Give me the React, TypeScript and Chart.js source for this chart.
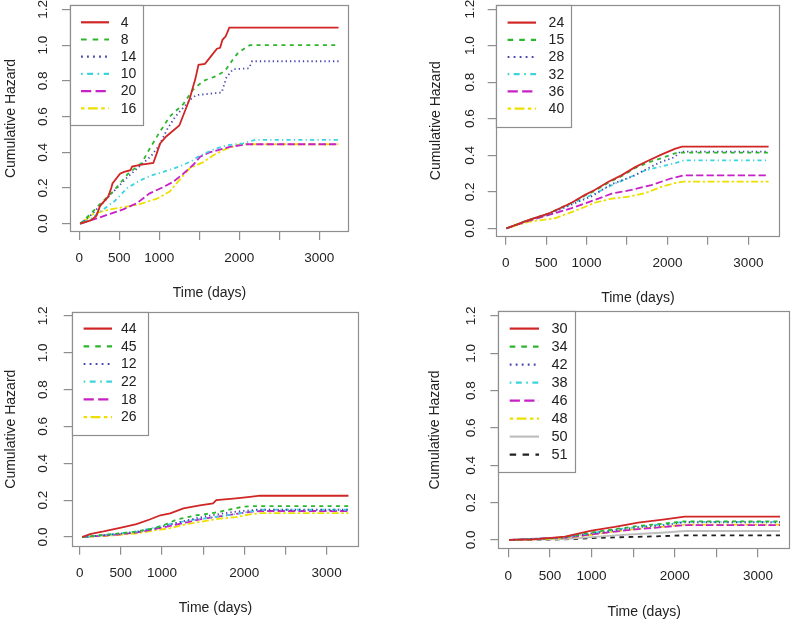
import React, { useEffect, useRef } from 'react';
import { Chart, registerables } from 'chart.js';

Chart.register(...registerables);

type Pt = [number, number];

// ---------- axis ticks / titles ----------
const xTickValues = [0, 500, 1000, 1500, 2000, 2500, 3000];
const xTickLabels = ['0', '500', '1000', '', '2000', '', '3000'];
const yTickValues = [0, 0.2, 0.4, 0.6, 0.8, 1.0, 1.2];
const yTickLabels = ['0.0', '0.2', '0.4', '0.6', '0.8', '1.0', '1.2'];
const xTitle = 'Time (days)';
const yTitle = 'Cumulative Hazard';

// ---------- panel A (top-left) ----------
const labelsA = ['4', '8', '14', '10', '20', '16'];
const a4: Pt[] = [[12, 0], [150, 0.02], [215, 0.045], [260, 0.1], [360, 0.15], [400, 0.2], [415, 0.225], [510, 0.28], [560, 0.29], [640, 0.3], [660, 0.32], [760, 0.33], [925, 0.34], [965, 0.39], [1010, 0.45], [1090, 0.49], [1250, 0.55], [1320, 0.63], [1380, 0.7], [1430, 0.78], [1450, 0.81], [1490, 0.89], [1570, 0.895], [1650, 0.94], [1720, 0.98], [1760, 0.985], [1790, 1.03], [1830, 1.05], [1875, 1.098], [3240, 1.098]];
const a8: Pt[] = [[12, 0], [130, 0.05], [260, 0.11], [420, 0.18], [480, 0.21], [610, 0.28], [780, 0.34], [880, 0.42], [1000, 0.51], [1130, 0.6], [1300, 0.67], [1420, 0.75], [1550, 0.8], [1700, 0.825], [1820, 0.855], [1920, 0.92], [1990, 0.96], [2130, 1.0], [3240, 1.0]];
const a14: Pt[] = [[12, 0], [150, 0.05], [300, 0.12], [450, 0.19], [600, 0.26], [750, 0.32], [900, 0.38], [1000, 0.44], [1100, 0.53], [1200, 0.6], [1300, 0.65], [1400, 0.7], [1460, 0.72], [1780, 0.735], [1840, 0.82], [1920, 0.865], [2120, 0.87], [2160, 0.91], [3240, 0.91]];
const a10: Pt[] = [[12, 0], [150, 0.03], [300, 0.08], [450, 0.13], [600, 0.2], [750, 0.24], [900, 0.27], [1050, 0.29], [1250, 0.32], [1400, 0.35], [1500, 0.38], [1600, 0.4], [1700, 0.42], [1850, 0.44], [2050, 0.45], [2200, 0.47], [3240, 0.47]];
const a20: Pt[] = [[12, 0], [220, 0.03], [385, 0.055], [550, 0.08], [720, 0.115], [880, 0.17], [1050, 0.205], [1175, 0.235], [1300, 0.28], [1425, 0.33], [1510, 0.375], [1630, 0.4], [1880, 0.43], [2090, 0.445], [3240, 0.445]];
const a16: Pt[] = [[12, 0], [175, 0.055], [380, 0.08], [720, 0.105], [970, 0.14], [1130, 0.18], [1260, 0.25], [1380, 0.31], [1550, 0.345], [1680, 0.385], [1840, 0.42], [2010, 0.445], [3240, 0.445]];

// ---------- panel B (top-right) ----------
const labelsB = ['24', '15', '28', '32', '36', '40'];
const b24: Pt[] = [[10, 0], [280, 0.045], [525, 0.08], [815, 0.14], [980, 0.183], [1100, 0.21], [1270, 0.255], [1430, 0.29], [1600, 0.335], [1760, 0.37], [1930, 0.405], [2090, 0.435], [2180, 0.447], [3250, 0.447]];
const b15: Pt[] = [[10, 0], [280, 0.045], [525, 0.08], [815, 0.14], [980, 0.18], [1100, 0.205], [1270, 0.25], [1430, 0.285], [1600, 0.33], [1760, 0.36], [1930, 0.385], [2090, 0.41], [2150, 0.414], [3250, 0.414]];
const b28: Pt[] = [[10, 0], [280, 0.045], [525, 0.075], [815, 0.13], [1060, 0.175], [1300, 0.24], [1600, 0.29], [1680, 0.31], [1900, 0.36], [2090, 0.39], [2160, 0.42], [3250, 0.42]];
const b32: Pt[] = [[10, 0], [280, 0.045], [525, 0.08], [815, 0.135], [1100, 0.19], [1350, 0.245], [1515, 0.275], [1680, 0.31], [1840, 0.33], [2090, 0.356], [2200, 0.372], [3250, 0.372]];
const b36: Pt[] = [[10, 0], [280, 0.04], [525, 0.072], [815, 0.11], [1100, 0.155], [1310, 0.19], [1555, 0.21], [1800, 0.237], [2050, 0.274], [2200, 0.29], [3250, 0.29]];
const b40: Pt[] = [[10, 0], [280, 0.035], [610, 0.055], [940, 0.11], [1100, 0.14], [1310, 0.162], [1515, 0.173], [1720, 0.192], [1930, 0.228], [2090, 0.247], [2200, 0.256], [3250, 0.256]];

// ---------- panel C (bottom-left) ----------
const labelsC = ['44', '45', '12', '22', '18', '26'];
const c44: Pt[] = [[30, 0], [125, 0.016], [290, 0.03], [490, 0.05], [690, 0.07], [850, 0.095], [980, 0.118], [1100, 0.128], [1260, 0.155], [1460, 0.172], [1620, 0.182], [1660, 0.2], [1900, 0.21], [2070, 0.218], [2190, 0.224], [3265, 0.224]];
const c45: Pt[] = [[30, 0], [300, 0.012], [500, 0.02], [700, 0.03], [900, 0.048], [1000, 0.06], [1180, 0.095], [1420, 0.118], [1620, 0.13], [1790, 0.146], [1990, 0.165], [2150, 0.168], [3265, 0.168]];
const c12: Pt[] = [[30, 0], [300, 0.01], [500, 0.018], [700, 0.028], [900, 0.045], [1100, 0.068], [1300, 0.09], [1500, 0.11], [1700, 0.125], [1900, 0.138], [2150, 0.148], [3265, 0.148]];
const c22: Pt[] = [[30, 0], [300, 0.01], [500, 0.02], [700, 0.03], [900, 0.05], [1100, 0.07], [1300, 0.088], [1500, 0.1], [1700, 0.112], [1900, 0.125], [2100, 0.14], [2200, 0.148], [3265, 0.148]];
const c18: Pt[] = [[30, 0], [300, 0.008], [500, 0.015], [700, 0.025], [900, 0.042], [1100, 0.06], [1300, 0.08], [1500, 0.1], [1700, 0.112], [1900, 0.125], [2100, 0.138], [2200, 0.141], [3265, 0.141]];
const c26: Pt[] = [[30, 0], [300, 0.005], [500, 0.012], [700, 0.02], [900, 0.035], [1100, 0.048], [1300, 0.07], [1500, 0.085], [1700, 0.1], [1900, 0.108], [2050, 0.122], [2200, 0.13], [3265, 0.13]];

// ---------- panel D (bottom-right) ----------
const labelsD = ['30', '34', '42', '38', '46', '48', '50', '51'];
const d30: Pt[] = [[10, 0], [300, 0.003], [480, 0.01], [680, 0.018], [1000, 0.05], [1280, 0.07], [1560, 0.093], [1880, 0.11], [2120, 0.125], [3265, 0.125]];
const d34: Pt[] = [[10, 0], [480, 0.008], [680, 0.015], [1000, 0.04], [1280, 0.058], [1560, 0.075], [1880, 0.088], [2120, 0.1], [3265, 0.1]];
const d42: Pt[] = [[10, 0], [480, 0.008], [680, 0.014], [1000, 0.035], [1280, 0.052], [1560, 0.068], [1880, 0.08], [2120, 0.095], [3265, 0.095]];
const d38: Pt[] = [[10, 0], [480, 0.01], [680, 0.015], [1000, 0.037], [1280, 0.055], [1560, 0.07], [1880, 0.085], [2120, 0.097], [3265, 0.097]];
const d46: Pt[] = [[10, 0], [480, 0.01], [680, 0.012], [1000, 0.03], [1280, 0.045], [1560, 0.058], [1880, 0.07], [2120, 0.08], [3265, 0.08]];
const d48: Pt[] = [[10, 0], [480, 0.006], [680, 0.01], [1000, 0.028], [1280, 0.045], [1560, 0.06], [1880, 0.072], [2120, 0.082], [3265, 0.082]];
const d50: Pt[] = [[10, 0], [680, 0.005], [1000, 0.015], [1280, 0.025], [1560, 0.032], [1880, 0.04], [2120, 0.048], [3265, 0.048]];
const d51: Pt[] = [[10, 0], [680, 0.003], [1000, 0.01], [1280, 0.014], [1560, 0.017], [1880, 0.021], [2120, 0.025], [3265, 0.025]];

// ---------- styles ----------
const COLORS = ['#D02626', '#2DB52D', '#4646AE', '#3CD4DE', '#C620C6', '#EDE000', '#BEBEBE', '#222222'];
const DASHES: number[][] = [[], [4, 4.3], [1.3, 3], [1.2, 3.2, 4.2, 3.2], [7.3, 3.1], [2.5, 2.5, 7, 2.5], [], [4.6, 4.6]];
const BOX = '#8E8E8E';
const TEXT = '#222222';
const FONT = "'Liberation Sans', Arial, Helvetica, sans-serif";
const OFF = 40;
const CW = 794 + 2 * OFF;
const CH = 621 + 2 * OFF;

interface Layout {
  box: { l: number; r: number; t: number; b: number };
  xr: [number, number];
  yr: [number, number];
  yTitleX: number;
  yLabelX: number;
  xLabelY: number;
  xTitleY: number;
  leg: { w: number; h: number; lineX: number; lineLen: number; textX: number; row0: number; pitch: number; fontSize: number };
}

const layoutA: Layout = {
  box: { l: 70, r: 349, t: 5, b: 232 }, xr: [-116, 3371], yr: [-0.0465, 1.225],
  yTitleX: 11.5, yLabelX: 43.3, xLabelY: 258.3, xTitleY: 292.7,
  leg: { w: 73.3, h: 120, lineX: 11, lineLen: 28, textX: 50.7, row0: 17.3, pitch: 17.2, fontSize: 14 },
};
const layoutB: Layout = {
  box: { l: 495.7, r: 780, t: 4.7, b: 236.7 }, xr: [-124, 3391], yr: [-0.046, 1.2245],
  yTitleX: 436, yLabelX: 470, xLabelY: 263.3, xTitleY: 297.7,
  leg: { w: 75, h: 122, lineX: 11.6, lineLen: 28.4, textX: 52.6, row0: 17.6, pitch: 17.2, fontSize: 14 },
};
const layoutC: Layout = {
  box: { l: 71.7, r: 359.3, t: 311.7, b: 546.7 }, xr: [-97, 3397], yr: [-0.0527, 1.223],
  yTitleX: 11, yLabelX: 43.3, xLabelY: 573.3, xTitleY: 608.3,
  leg: { w: 76, h: 123.3, lineX: 11.6, lineLen: 28.4, textX: 49, row0: 16.6, pitch: 17.7, fontSize: 14 },
};
const layoutD: Layout = {
  box: { l: 498.3, r: 790, t: 310.7, b: 549.3 }, xr: [-120, 3385], yr: [-0.05, 1.228],
  yTitleX: 435.5, yLabelX: 471.7, xLabelY: 576.7, xTitleY: 611.7,
  leg: { w: 76.7, h: 161, lineX: 11.7, lineLen: 29.3, textX: 53.4, row0: 17.6, pitch: 18, fontSize: 14.5 },
};

const framePlugin = {
  id: 'frame',
  afterDatasetsDraw(chart: any) {
    const { ctx, chartArea } = chart;
    const l = Math.round(chartArea.left) + 0.5;
    const t = Math.round(chartArea.top) + 0.5;
    const r = Math.round(chartArea.right) - 0.5;
    const b = Math.round(chartArea.bottom) - 0.5;
    ctx.save();
    ctx.strokeStyle = BOX;
    ctx.lineWidth = 1.2;
    ctx.strokeRect(l, t, r - l, b - t);
    ctx.restore();
  },
};

const legendPlugin = {
  id: 'boxLegend',
  afterDatasetsDraw(chart: any, _args: any, opts: any) {
    const { ctx, chartArea } = chart;
    const L = Math.round(chartArea.left);
    const T = Math.round(chartArea.top);
    ctx.save();
    ctx.fillStyle = '#ffffff';
    ctx.fillRect(L, T, opts.w, opts.h);
    ctx.strokeStyle = BOX;
    ctx.lineWidth = 1.2;
    ctx.strokeRect(L + 0.5, T + 0.5, Math.round(opts.w), Math.round(opts.h));
    chart.data.datasets.forEach((ds: any, i: number) => {
      const y = T + opts.row0 + i * opts.pitch;
      ctx.beginPath();
      ctx.setLineDash((ds.borderDash || []).map((d: number) => d * 1.4));
      ctx.strokeStyle = ds.borderColor;
      ctx.lineWidth = 2.2;
      ctx.moveTo(L + opts.lineX, y);
      ctx.lineTo(L + opts.lineX + opts.lineLen, y);
      ctx.stroke();
      ctx.setLineDash([]);
      ctx.fillStyle = TEXT;
      ctx.font = `${opts.fontSize}px ${FONT}`;
      ctx.textBaseline = 'middle';
      ctx.textAlign = 'left';
      ctx.fillText(ds.label, L + opts.textX, y + 0.5);
    });
    ctx.restore();
  },
};

function makeChart(canvas: HTMLCanvasElement, labels: string[], series: Pt[][], P: Layout) {
  const tickLen = 8;
  const tickFs = 13.5;
  const titleFs = 14;
  const tickLh = tickFs * 1.2;
  const titleLh = titleFs * 1.2;
  const yScaleLeft = P.yTitleX - titleLh / 2;
  const yW = P.box.l - yScaleLeft;
  const xH = P.xTitleY + titleLh / 2 - P.box.b;
  const halfWidest = 9.38;
  const yPad = P.box.l - tickLen - P.yLabelX - halfWidest;
  const xPad = P.xLabelY - P.box.b - tickLen - tickLh / 2;
  const padding = {
    left: yScaleLeft + OFF,
    top: P.box.t + OFF,
    right: CW - (P.box.r + OFF),
    bottom: CH - (P.box.b + OFF) - xH,
  };
  const tickFont = { family: FONT, size: tickFs };
  const titleFont = { family: FONT, size: titleFs };
  return new Chart(canvas, {
    type: 'line',
    data: {
      datasets: series.map((s, i) => ({
        label: labels[i],
        data: s.map(([x, y]) => ({ x, y })),
        borderColor: COLORS[i],
        backgroundColor: COLORS[i],
        borderWidth: 1.8,
        borderDash: DASHES[i],
        pointRadius: 0,
        tension: 0,
        fill: false,
      })),
    },
    options: {
      animation: false,
      responsive: false,
      maintainAspectRatio: false,
      events: [],
      layout: { padding, autoPadding: false } as any,
      plugins: {
        legend: { display: false },
        tooltip: { enabled: false },
        boxLegend: P.leg,
      } as any,
      scales: {
        x: {
          type: 'linear',
          position: 'bottom',
          min: P.xr[0],
          max: P.xr[1],
          afterBuildTicks: (s: any) => { s.ticks = xTickValues.map((v) => ({ value: v })); },
          afterFit: (s: any) => { s.height = xH; },
          ticks: {
            autoSkip: false, minRotation: 0, maxRotation: 0, padding: xPad, color: TEXT, font: tickFont,
            callback: (_v: any, i: number) => xTickLabels[i],
          },
          grid: { display: true, drawOnChartArea: false, drawTicks: true, tickLength: tickLen, color: BOX, lineWidth: 1.2 },
          border: { display: false },
          title: { display: true, text: xTitle, color: TEXT, font: titleFont, padding: 0 },
        },
        y: {
          type: 'linear',
          position: 'left',
          min: P.yr[0],
          max: P.yr[1],
          afterBuildTicks: (s: any) => { s.ticks = yTickValues.map((v) => ({ value: v })); },
          afterFit: (s: any) => { s.width = yW; },
          ticks: {
            autoSkip: false, minRotation: 90, maxRotation: 90, crossAlign: 'center', padding: yPad, color: TEXT, font: tickFont,
            callback: (_v: any, i: number) => yTickLabels[i],
          },
          grid: { display: true, drawOnChartArea: false, drawTicks: true, tickLength: tickLen, color: BOX, lineWidth: 1.2 },
          border: { display: false },
          title: { display: true, text: yTitle, color: TEXT, font: titleFont, padding: 0 },
        },
      },
    } as any,
    plugins: [framePlugin, legendPlugin],
  });
}

function Panel({ labels, series, layout }: { labels: string[]; series: Pt[][]; layout: Layout }) {
  const ref = useRef<HTMLCanvasElement>(null);
  useEffect(() => {
    const chart = makeChart(ref.current!, labels, series, layout);
    return () => chart.destroy();
  }, []);
  return (
    <canvas
      ref={ref}
      width={CW}
      height={CH}
      style={{ position: 'absolute', left: -OFF, top: -OFF, width: CW, height: CH }}
    />
  );
}

export default function App() {
  return (
    <div style={{ position: 'absolute', left: 0, top: 0, width: 794, height: 621, overflow: 'hidden', background: '#ffffff' }}>
      <Panel labels={labelsA} series={[a4, a8, a14, a10, a20, a16]} layout={layoutA} />
      <Panel labels={labelsB} series={[b24, b15, b28, b32, b36, b40]} layout={layoutB} />
      <Panel labels={labelsC} series={[c44, c45, c12, c22, c18, c26]} layout={layoutC} />
      <Panel labels={labelsD} series={[d30, d34, d42, d38, d46, d48, d50, d51]} layout={layoutD} />
    </div>
  );
}
